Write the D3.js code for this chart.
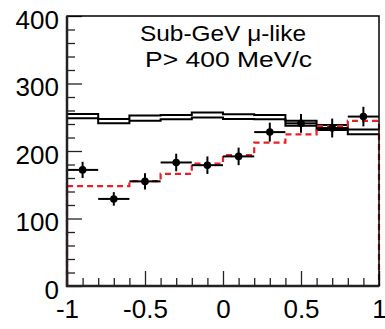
<!DOCTYPE html>
<html>
<head>
<meta charset="utf-8">
<script src="https://cdn.jsdelivr.net/npm/d3@7"></script>
<style>
body { margin: 0; background: #fff; }
svg text { font-family: "Liberation Sans", Arial, sans-serif; fill: #000; }
</style>
</head>
<body>
<div id="chart"></div>
<script>
// bin edges for cos(zenith), 10 bins
var bin_edges = [-1, -0.8, -0.6, -0.4, -0.2, 0, 0.2, 0.4, 0.6, 0.8, 1];

// data points and errors
var data_values = [172, 129, 155, 183, 179, 192, 228, 241, 234, 251];
var data_errors = [12, 10, 12, 13, 13, 13, 14, 14, 14, 14.5];

// red dashed histogram
var osc_values = [148, 148, 155.5, 166, 181.5, 194, 212.5, 224.5, 237, 244.5];

// black band (upper and lower edge)
var band_upper = [255, 247.5, 252.5, 253.5, 257, 254.5, 253.5, 245, 238.5, 232];
var band_lower = [248.5, 241, 245, 247, 249.5, 247.5, 247, 237.5, 231, 225];

var x_ticks = [-1, -0.5, 0, 0.5, 1];
var y_ticks = [0, 100, 200, 300, 400];
var title_lines = ["Sub-GeV \u03bc-like", "P> 400 MeV/c"];

var width = 385, height = 329;
var m_left = 67, m_right = 379, m_top = 16, m_bottom = 286;

var svg = d3.select("#chart").append("svg")
    .attr("width", width)
    .attr("height", height);

var x = d3.scaleLinear().domain([-1, 1]).range([m_left, m_right]);
var y = d3.scaleLinear().domain([0, 400]).range([m_bottom, m_top]);

function step_points(values) {
    let pts = [];
    for (let i = 0; i < values.length; i++) {
        pts.push([x(bin_edges[i]), y(values[i])]);
        pts.push([x(bin_edges[i + 1]), y(values[i])]);
    }
    return pts;
}

var line = d3.line();

// band: two step outlines joined at the bin edges
[band_upper, band_lower].forEach(function(vals) {
    svg.append("path")
        .attr("d", line(step_points(vals)))
        .attr("fill", "none")
        .attr("stroke", "#000")
        .attr("stroke-width", 2);
});

// red dashed histogram, dropping to zero at both ends
let red_pts = step_points(osc_values);
red_pts.unshift([x(-1), y(0)]);
red_pts.push([x(1), y(0)]);
svg.append("path")
    .attr("d", line(red_pts))
    .attr("fill", "none")
    .attr("stroke", "#ee1c25")
    .attr("stroke-width", 2.2)
    .attr("stroke-dasharray", "6,4");

// data points
let centers = data_values.map((v, i) => (bin_edges[i] + bin_edges[i + 1]) / 2);
let pts = svg.append("g");
for (let i = 0; i < data_values.length; i++) {
    pts.append("line")
        .attr("x1", x(bin_edges[i])).attr("x2", x(bin_edges[i + 1]))
        .attr("y1", y(data_values[i])).attr("y2", y(data_values[i]))
        .attr("stroke", "#000").attr("stroke-width", 2);
    pts.append("line")
        .attr("x1", x(centers[i])).attr("x2", x(centers[i]))
        .attr("y1", y(data_values[i] - data_errors[i]))
        .attr("y2", y(data_values[i] + data_errors[i]))
        .attr("stroke", "#000").attr("stroke-width", 2);
    pts.append("circle")
        .attr("cx", x(centers[i])).attr("cy", y(data_values[i]))
        .attr("r", 3.8).attr("fill", "#000");
}

// ticks, drawn inward
function draw_ticks(axis, tr) {
    let g = svg.append("g").attr("transform", tr).call(axis);
    g.select(".domain").remove();
    g.selectAll(".tick line").attr("stroke", "#222").attr("stroke-width", 1.3);
    return g;
}

let y_minor = d3.range(0, 401, 20).filter(v => v % 100 != 0);
draw_ticks(d3.axisLeft(y).tickValues(y_minor).tickSize(-8).tickFormat(""), "translate(" + m_left + ",0)");
let gy = draw_ticks(d3.axisLeft(y).tickValues(y_ticks).tickSize(-15).tickPadding(0).tickFormat(d3.format("d")),
    "translate(" + m_left + ",0)");
gy.selectAll(".tick text")
    .attr("x", -8).attr("dy", null).attr("y", 12)
    .attr("text-anchor", "end")
    .style("font-size", "26px").style("font-family", "Liberation Sans, Arial, sans-serif");

let x_minor = d3.range(-9, 10).map(v => v / 10).filter(v => Math.abs(v * 2 - Math.round(v * 2)) > 1e-6);
draw_ticks(d3.axisBottom(x).tickValues(x_minor).tickSize(-8).tickFormat(""), "translate(0," + m_bottom + ")");
let gx = draw_ticks(d3.axisBottom(x).tickValues(x_ticks).tickSize(-15).tickFormat(d => d3.format("")(d).replace("\u2212", "-")),
    "translate(0," + m_bottom + ")");
gx.selectAll(".tick text")
    .attr("dy", null).attr("y", 32)
    .style("font-size", "26px").style("font-family", "Liberation Sans, Arial, sans-serif");

// frame
svg.append("rect")
    .attr("x", m_left).attr("y", m_top)
    .attr("width", m_right - m_left).attr("height", m_bottom - m_top)
    .attr("fill", "none").attr("stroke", "#000").attr("stroke-width", 1.5);
svg.append("path")
    .attr("d", line([[m_left, m_top], [m_left, m_bottom], [m_right, m_bottom]]))
    .attr("fill", "none").attr("stroke", "#222").attr("stroke-width", 2.5);

// title
svg.append("text")
    .attr("x", 140).attr("y", 41)
    .attr("textLength", 166).attr("lengthAdjust", "spacingAndGlyphs")
    .style("font-size", "22px")
    .text(title_lines[0]);
svg.append("text")
    .attr("x", 145).attr("y", 67)
    .attr("textLength", 167).attr("lengthAdjust", "spacingAndGlyphs")
    .style("font-size", "22px")
    .text(title_lines[1]);
</script>
</body>
</html>
